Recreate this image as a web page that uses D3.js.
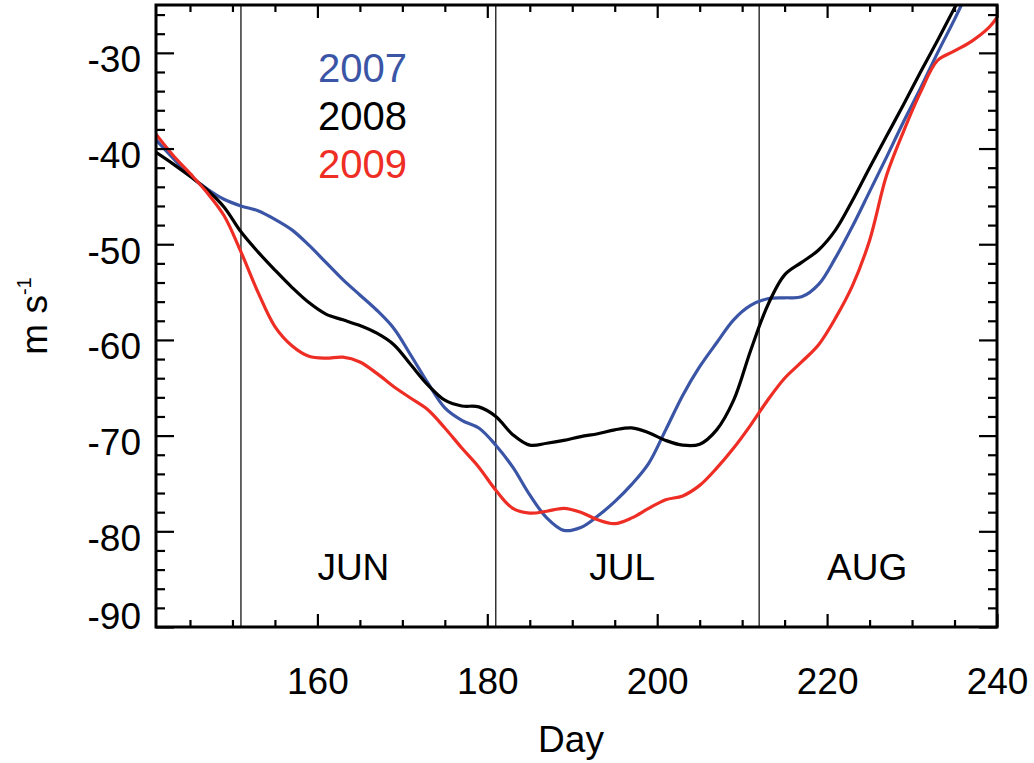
<!DOCTYPE html>
<html>
<head>
<meta charset="utf-8">
<script src="https://cdn.jsdelivr.net/npm/d3@7"></script>
<style>
  html, body { margin: 0; padding: 0; background: #fff; }
  svg { display: block; font-family: "Liberation Sans", Arial, Helvetica, sans-serif; }
</style>
</head>
<body>
<svg id="chart" width="1034" height="763"></svg>
<script>
// Day of year (every other day) and the zonal wind for each summer
const days = [141,143,145,147,149,151,153,155,157,159,161,163,165,167,169,171,173,175,177,179,
              181,183,185,187,189,191,193,195,197,199,201,203,205,207,209,211,213,215,217,219,
              221,223,225,227,229,231,233,235,237,239,240];

const wind2007 = [-39.1,-41.0,-42.8,-44.2,-45.3,-46.0,-46.5,-47.4,-48.5,-50.1,-51.9,-53.7,-55.3,-56.9,-58.8,-61.6,-64.5,-67.1,-68.4,-69.2,
                  -71.0,-73.3,-76.2,-78.6,-79.9,-79.6,-78.4,-76.9,-75.1,-72.9,-69.4,-65.8,-62.8,-60.3,-57.9,-56.4,-55.7,-55.6,-55.5,-54.2,
                  -51.4,-48.1,-44.5,-40.9,-37.2,-33.7,-30.0,-26.5,-22.8,-19.3,-17.6];

const wind2008 = [-40.4,-41.6,-42.9,-44.3,-46.1,-48.7,-50.8,-52.7,-54.5,-56.1,-57.3,-57.9,-58.5,-59.3,-60.5,-62.6,-64.7,-66.3,-66.9,-67.0,
                  -68.0,-69.9,-71.0,-70.8,-70.5,-70.1,-69.8,-69.4,-69.2,-69.7,-70.5,-71.0,-70.9,-69.4,-66.3,-61.1,-56.4,-53.2,-51.9,-50.6,
                  -48.5,-45.4,-42.0,-38.7,-35.4,-32.0,-28.7,-25.3,-22.0,-18.6,-17.1];

const wind2009 = [-38.5,-40.7,-42.6,-44.6,-47.0,-50.8,-55.0,-58.6,-60.6,-61.7,-61.9,-61.8,-62.3,-63.5,-64.9,-66.1,-67.3,-69.2,-71.3,-73.3,
                  -75.7,-77.6,-78.1,-77.9,-77.6,-78.0,-78.8,-79.2,-78.6,-77.6,-76.7,-76.3,-75.2,-73.4,-71.3,-68.9,-66.3,-64.0,-62.3,-60.5,
                  -57.7,-54.3,-49.6,-42.8,-38.2,-34.1,-30.8,-29.8,-28.8,-27.4,-26.3];

const years = ["2007", "2008", "2009"];
const yearColors = ["#3b55a6", "#000000", "#ee2d24"];

const xTicks = [160, 180, 200, 220, 240];
const yTicks = [-90, -80, -70, -60, -50, -40, -30];

// Month boundaries and month names
const monthBounds = [151, 181, 212];
const monthNames = ["JUN", "JUL", "AUG"];
const monthLabelDays = [160, 192, 220];

const svg = d3.select("#chart");
const plotLeft = 156, plotRight = 997, plotTop = 5, plotBottom = 627;

const x = d3.scaleLinear().domain([141, 240]).range([plotLeft, plotRight]);
const y = d3.scaleLinear().domain([-90, -25]).range([plotBottom, plotTop]);

const tickFont = 37;

// clip region for the curves
svg.append("defs").append("clipPath").attr("id", "plotClip")
  .append("rect").attr("x", plotLeft).attr("y", plotTop)
  .attr("width", plotRight - plotLeft).attr("height", plotBottom - plotTop);

// month boundary lines
svg.append("g").selectAll("line").data(monthBounds).join("line")
  .attr("x1", d => x(d)).attr("x2", d => x(d))
  .attr("y1", plotTop).attr("y2", plotBottom)
  .attr("stroke", "#000").attr("stroke-width", 1.2);

// month names
svg.append("g").selectAll("text").data(monthNames).join("text")
  .attr("x", (d, i) => x(monthLabelDays[i]))
  .attr("y", 580)
  .attr("font-size", tickFont)
  .attr("fill", "#000")
  .text(d => d);

// data curves
const series = [wind2007, wind2008, wind2009];
const line = d3.line().x((d, i) => x(days[i])).y(d => y(d)).curve(d3.curveCatmullRom.alpha(0.5));
svg.append("g").attr("clip-path", "url(#plotClip)")
  .selectAll("path").data(series).join("path")
  .attr("d", d => line(d))
  .attr("fill", "none")
  .attr("stroke", (d, i) => yearColors[i])
  .attr("stroke-width", 3.2)
  .attr("stroke-linejoin", "round");

// axes: major and minor ticks on all four sides, pointing inward
function styleAxis(g) {
  g.select(".domain").remove();
  g.selectAll(".tick line").attr("stroke", "#000").attr("stroke-width", 2.2);
  g.selectAll(".tick text").attr("font-size", tickFont).attr("fill", "#000")
    .attr("font-family", "\"Liberation Sans\", Arial, Helvetica, sans-serif");
}
const fmt = d => String(d);
const xMinor = d3.range(145, 241, 5).filter(d => !xTicks.includes(d));
const yMinor = d3.range(-88, -24, 2).filter(d => !yTicks.includes(d));

// bottom
svg.append("g").attr("transform", `translate(0,${plotBottom})`)
  .call(d3.axisBottom(x).tickValues(xTicks).tickSize(-13).tickSizeOuter(0).tickPadding(41).tickFormat(fmt))
  .call(styleAxis);
svg.append("g").attr("transform", `translate(0,${plotBottom})`)
  .call(d3.axisBottom(x).tickValues(xMinor).tickSize(-7).tickSizeOuter(0).tickFormat(""))
  .call(styleAxis);
// top
svg.append("g").attr("transform", `translate(0,${plotTop})`)
  .call(d3.axisTop(x).tickValues(xTicks).tickSize(-13).tickSizeOuter(0).tickFormat(""))
  .call(styleAxis);
svg.append("g").attr("transform", `translate(0,${plotTop})`)
  .call(d3.axisTop(x).tickValues(xMinor).tickSize(-7).tickSizeOuter(0).tickFormat(""))
  .call(styleAxis);
// left
const yLeft = svg.append("g").attr("transform", `translate(${plotLeft},0)`)
  .call(d3.axisLeft(y).tickValues(yTicks).tickSize(-18).tickSizeOuter(0).tickPadding(15).tickFormat(fmt))
  .call(styleAxis);
yLeft.selectAll(".tick text").attr("dy", d => d === -90 ? "1px" : "19px");
svg.append("g").attr("transform", `translate(${plotLeft},0)`)
  .call(d3.axisLeft(y).tickValues(yMinor).tickSize(-9).tickSizeOuter(0).tickFormat(""))
  .call(styleAxis);
// right
svg.append("g").attr("transform", `translate(${plotRight},0)`)
  .call(d3.axisRight(y).tickValues(yTicks).tickSize(-18).tickSizeOuter(0).tickFormat(""))
  .call(styleAxis);
svg.append("g").attr("transform", `translate(${plotRight},0)`)
  .call(d3.axisRight(y).tickValues(yMinor).tickSize(-9).tickSizeOuter(0).tickFormat(""))
  .call(styleAxis);

// plot frame
svg.append("rect")
  .attr("x", plotLeft).attr("y", plotTop)
  .attr("width", plotRight - plotLeft).attr("height", plotBottom - plotTop)
  .attr("fill", "none").attr("stroke", "#000").attr("stroke-width", 3);

// axis titles
svg.append("text")
  .attr("x", 571).attr("y", 752)
  .attr("text-anchor", "middle")
  .attr("font-size", tickFont)
  .text("Day");

const yTitle = svg.append("text")
  .attr("transform", `translate(47,${(plotTop + plotBottom) / 2}) rotate(-90)`)
  .attr("text-anchor", "middle")
  .attr("font-size", tickFont);
yTitle.append("tspan").text("m s");
yTitle.append("tspan").attr("font-size", 20).attr("dy", -16).text("-1");

// legend
svg.append("g").selectAll("text").data(years).join("text")
  .attr("x", 318)
  .attr("y", (d, i) => 82 + i * 48)
  .attr("font-size", 40)
  .attr("fill", (d, i) => yearColors[i])
  .text(d => d);
</script>
</body>
</html>
